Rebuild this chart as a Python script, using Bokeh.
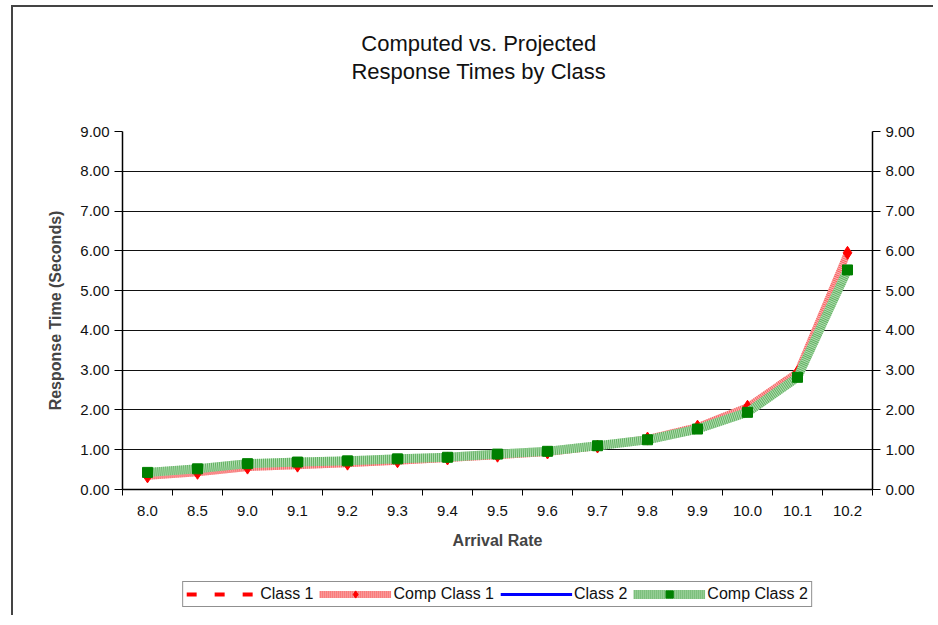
from bokeh.plotting import figure
from bokeh.layouts import column
from bokeh.models import (LinearAxis, FixedTicker, SingleIntervalTicker, NumeralTickFormatter,
                          Legend, LegendItem, Range1d, Label)
from bokeh.embed import file_html
from bokeh.resources import INLINE

rates = ["8.0", "8.5", "9.0", "9.1", "9.2", "9.3", "9.4", "9.5", "9.6", "9.7", "9.8", "9.9", "10.0", "10.1", "10.2"]
class1 = [0.34, 0.44, 0.56, 0.61, 0.66, 0.72, 0.78, 0.86, 0.95, 1.09, 1.30, 1.60, 2.10, 3.00, 6.00]
comp_class1 = [0.33, 0.42, 0.55, 0.60, 0.65, 0.71, 0.78, 0.85, 0.93, 1.08, 1.28, 1.58, 2.08, 2.95, 5.95]
class2 = [0.45, 0.56, 0.67, 0.71, 0.74, 0.80, 0.83, 0.90, 0.97, 1.11, 1.30, 1.55, 1.98, 2.88, 5.60]
comp_class2 = [0.43, 0.52, 0.65, 0.69, 0.72, 0.77, 0.81, 0.89, 0.96, 1.10, 1.25, 1.52, 1.94, 2.82, 5.52]
series_names = ["Class 1", "Comp Class 1", "Class 2", "Comp Class 2"]
title_lines = ["Computed vs. Projected", "Response Times by Class"]

FONT = "Liberation Sans"
n = len(rates)
xs = [i + 0.5 for i in range(n)]
W = 920

# ---- title strip (its own small figure, so the two centred lines are never clipped)
tf = figure(width=W, height=100, output_backend="svg", toolbar_location=None, title=None,
            x_range=Range1d(0, W), y_range=Range1d(0, 100),
            min_border_left=0, min_border_right=0, min_border_top=0, min_border_bottom=0,
            background_fill_color="white", border_fill_color="white")
tf.axis.visible = False
tf.grid.visible = False
tf.outline_line_color = None
for line, ypos in zip(title_lines, [64, 36]):
    tf.add_layout(Label(x=437, y=ypos, text=line, text_align="center", text_baseline="middle",
                        text_font=FONT, text_font_size="22px", text_color="#111111"))

# ---- main chart
p = figure(width=W, height=466, output_backend="svg", toolbar_location=None, title=None,
           x_range=Range1d(0, n), y_range=Range1d(0, 9),
           min_border_left=109, min_border_right=61, min_border_top=24, min_border_bottom=84,
           background_fill_color="white", border_fill_color="white")
p.outline_line_color = None

# x axis: labels at band centres, ticks at band edges
xax = p.xaxis[0]
xax.ticker = FixedTicker(ticks=xs, minor_ticks=list(range(n + 1)))
xax.major_label_overrides = {x: r for x, r in zip(xs, rates)}
xax.major_tick_out = 0
xax.major_tick_in = 0
xax.minor_tick_out = 6
xax.minor_tick_in = 0
xax.minor_tick_line_color = "black"
xax.axis_line_color = "black"
xax.axis_line_width = 1.5
xax.major_label_standoff = 10
xax.major_label_text_font = FONT
xax.major_label_text_font_size = "15px"
xax.major_label_text_color = "#111111"
xax.axis_label = "Arrival Rate"
xax.axis_label_text_font = FONT
xax.axis_label_text_font_size = "16px"
xax.axis_label_text_font_style = "bold"
xax.axis_label_standoff = 13
p.xgrid.visible = False

yax = p.yaxis[0]
yax.ticker = SingleIntervalTicker(interval=1, num_minor_ticks=0)
yax.formatter = NumeralTickFormatter(format="0.00")
yax.major_tick_out = 8
yax.major_tick_in = 0
yax.minor_tick_line_color = None
yax.axis_line_color = "black"
yax.axis_line_width = 1.5
yax.major_label_standoff = 5
yax.major_label_text_font = FONT
yax.major_label_text_font_size = "15px"
yax.major_label_text_color = "#111111"
yax.axis_label = "Response Time (Seconds)"
yax.axis_label_text_font = FONT
yax.axis_label_text_font_size = "16px"
yax.axis_label_text_font_style = "bold"
yax.axis_label_standoff = 13

rax = LinearAxis(ticker=SingleIntervalTicker(interval=1, num_minor_ticks=0),
                 formatter=NumeralTickFormatter(format="0.00"))
rax.major_tick_out = 8
rax.major_tick_in = 0
rax.minor_tick_line_color = None
rax.axis_line_color = "black"
rax.axis_line_width = 1.5
rax.major_label_standoff = 5
rax.major_label_text_font = FONT
rax.major_label_text_font_size = "15px"
rax.major_label_text_color = "#111111"
p.add_layout(rax, "right")

p.ygrid.ticker = SingleIntervalTicker(interval=1)
p.ygrid.grid_line_color = "#111111"
p.ygrid.grid_line_width = 1.2


def draw(fig, ys):
    r1 = fig.line(xs, ys[0], line_color="red", line_width=4, line_dash="10 18")
    r2a = fig.line(xs, ys[1], line_color="#f7b8b8", line_width=7)
    r2b = fig.line(xs, ys[1], line_color="#ff2020", line_width=7, line_dash="1 1", line_alpha=0.6)
    r2c = fig.scatter(xs, ys[1], marker="diamond", size=13, fill_color="red", line_color="red")
    r3 = fig.line(xs, ys[2], line_color="#0000ff", line_width=3)
    r4a = fig.line(xs, ys[3], line_color="#b2dcb2", line_width=9)
    r4b = fig.line(xs, ys[3], line_color="#1f8f1f", line_width=9, line_dash="1 1", line_alpha=0.55)
    r4c = fig.scatter(xs, ys[3], marker="square", size=10, fill_color="#008000", line_color="#008000")
    return [[r1], [r2a, r2b, r2c], [r3], [r4a, r4b, r4c]]


draw(p, [class1, comp_class1, class2, comp_class2])

# ---- legend strip below the chart
lf = figure(width=W, height=42, output_backend="svg", toolbar_location=None, title=None,
            x_range=Range1d(0, n), y_range=Range1d(100, 101),
            min_border_left=42, min_border_right=0, min_border_top=0, min_border_bottom=0,
            background_fill_color="white", border_fill_color="white")
lf.axis.visible = False
lf.grid.visible = False
lf.outline_line_color = None
groups = draw(lf, [class1, comp_class1, class2, comp_class2])

legend = Legend(items=[LegendItem(label=name, renderers=g) for name, g in zip(series_names, groups)],
                orientation="horizontal", location="center")
legend.label_text_font = FONT
legend.label_text_font_size = "16px"
legend.label_text_color = "#111111"
legend.glyph_width = 72
legend.glyph_height = 18
legend.label_standoff = 2
legend.spacing = 6
legend.padding = 3
legend.margin = 0
legend.border_line_color = "#222222"
legend.border_line_width = 1.5
legend.background_fill_alpha = 1
lf.add_layout(legend, "center")

layout = column(tf, p, lf, spacing=0)
layout.styles = {"border-left": "2px solid #444", "border-top": "2px solid #444",
                 "margin-left": "11px", "margin-top": "5px"}
open("out.html", "w").write(file_html(layout, INLINE))
